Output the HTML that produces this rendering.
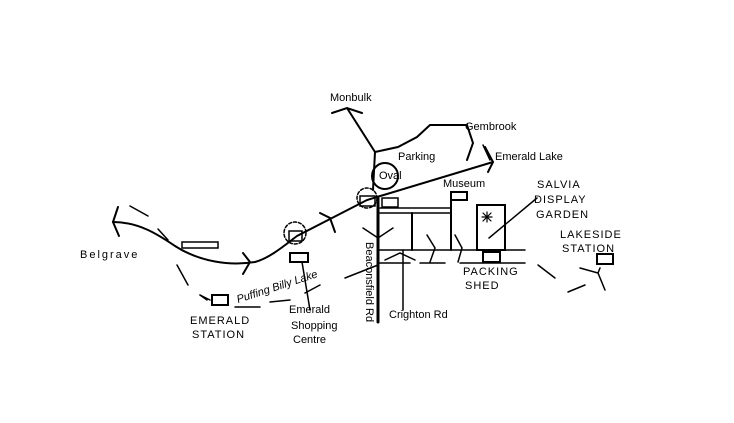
<!DOCTYPE html>
<html><head><style>
html,body{margin:0;padding:0;background:#fff;}
svg{display:block}
text{font-family:"Liberation Sans",sans-serif;font-size:11px;fill:#000;}
</style></head><body>
<svg width="734" height="423" viewBox="0 0 734 423" xmlns="http://www.w3.org/2000/svg">
<g fill="none" stroke="#000" stroke-width="2" stroke-linecap="round">
<!-- main railway -->
<path d="M113,222 C140,222 160,236 175,246 C200,262 230,266 255,262 C270,258 285,245 297,236 L367,200 L493,162"/>
<path d="M113,222 L118,207 M113,222 L119,236"/>
<path d="M243,253 L250,262 L243,274"/>
<path d="M320,213 L330,218 L335,232"/>
<path d="M485,147 L493,162 L488,172"/>
<!-- dashed side -->
<path d="M130,206 L148,216 M158,229 L168,240 M177,265 L188,285 M200,295 L207,300" stroke-width="1.5"/>
<!-- stations -->
<circle cx="295" cy="233" r="11" stroke-dasharray="3,2" stroke-width="1.5"/>
<rect x="289" y="231" width="13" height="10" stroke-width="1.5"/>
<circle cx="367" cy="198" r="10" stroke-dasharray="3,2" stroke-width="1.5"/>
<rect x="360" y="196" width="15" height="10" stroke-width="1.5"/>
<rect x="290" y="253" width="18" height="9"/>
<rect x="212" y="295" width="16" height="10"/>
<rect x="182" y="242" width="36" height="6" stroke-width="1.5"/>
<!-- roads north -->
<path d="M375,152 L347,108 M332,113 L347,108 L362,113"/>
<path d="M373,190 L375,152 L398,147 L417,137 L430,125 L467,125 L473,143 L467,160"/>
<path d="M483,145 L490,160" stroke-width="1.5"/>
<circle cx="385" cy="176" r="13"/>
<!-- Beaconsfield -->
<path d="M378,198 L378,322" stroke-width="3"/>
<path d="M363,228 L378,238 L393,228" stroke-width="1.5"/>
<path d="M380,208 L450,208 M380,213 L450,213" stroke-width="1.5"/>
<rect x="382" y="198" width="16" height="9" stroke-width="1.5"/>
<rect x="451" y="192" width="16" height="8"/>
<path d="M451,192 L451,250 M412,213 L412,250"/>
<path d="M378,250 L525,250 M378,263 L410,263 M420,263 L445,263 M460,263 L525,263" stroke-width="1.5"/>
<path d="M385,260 L400,253 L415,260" stroke-width="1.5"/>
<path d="M403,250 L403,310" stroke-width="1.5"/>
<path d="M427,235 L435,248 L430,262 M455,235 L462,248 L458,262" stroke-width="1.5"/>
<!-- garden -->
<rect x="477" y="205" width="28" height="45"/>
<path d="M487,212 L487,222 M482,217 L492,217 M483,213 L491,221 M491,213 L483,221" stroke-width="1.2"/>
<path d="M489,238 L537,198" stroke-width="1.5"/>
<rect x="483" y="252" width="17" height="10"/>
<!-- lakeside -->
<rect x="597" y="254" width="16" height="10"/>
<path d="M538,265 L555,278 M568,292 L585,285 M580,268 L598,273 L605,290 M598,273 L600,268" stroke-width="1.5"/>
<!-- shopping & puffing billy -->
<path d="M302,262 L310,310" stroke-width="1.5"/>
<path d="M235,307 L260,307 M270,302 L290,300 M305,293 L320,285 M345,278 L378,265" stroke-width="1.5"/>
<path d="M200,295 L210,300" stroke-width="1.5"/>
</g>
<text x="80" y="258" style="letter-spacing:2px">Belgrave</text>
<text x="330" y="101">Monbulk</text>
<text x="465" y="130">Gembrook</text>
<text x="495" y="160">Emerald Lake</text>
<text x="398" y="160">Parking</text>
<text x="379" y="179" font-size="10">Oval</text>
<text x="443" y="187" font-size="8">Museum</text>
<text x="537" y="188" style="letter-spacing:1px">SALVIA</text>
<text x="534" y="203" style="letter-spacing:1px">DISPLAY</text>
<text x="536" y="218" style="letter-spacing:1px">GARDEN</text>
<text x="560" y="238" style="letter-spacing:1px">LAKESIDE</text>
<text x="562" y="252" style="letter-spacing:1px">STATION</text>
<text x="463" y="275" style="letter-spacing:1px">PACKING</text>
<text x="465" y="289" style="letter-spacing:1px">SHED</text>
<text x="389" y="318" font-size="10">Crighton Rd</text>
<text x="190" y="324" style="letter-spacing:1px">EMERALD</text>
<text x="192" y="338" style="letter-spacing:1px">STATION</text>
<text x="289" y="313" font-size="10">Emerald</text>
<text x="291" y="329" font-size="10">Shopping</text>
<text x="293" y="343" font-size="10">Centre</text>
<text x="0" y="0" font-size="10" transform="translate(238,303) rotate(-18)" font-style="italic">Puffing Billy Lake</text>
<text x="0" y="0" font-size="9" transform="translate(366,242) rotate(90)">Beaconsfield Rd</text>
</svg>
</body></html>
